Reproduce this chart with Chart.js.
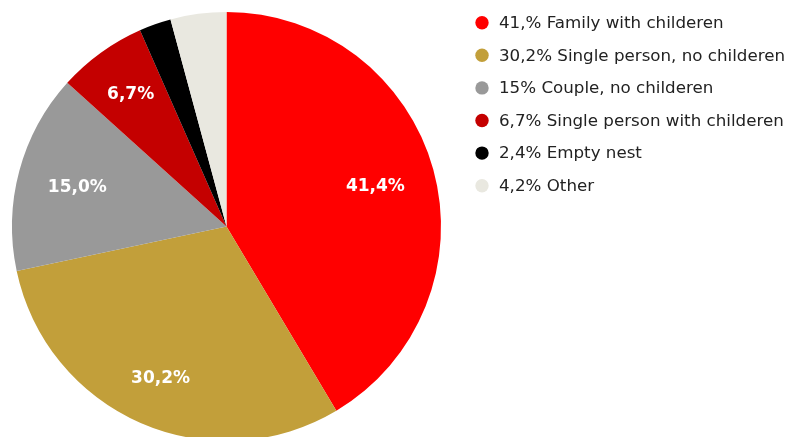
<!DOCTYPE html>
<html>
<head>
<meta charset="utf-8">
<script src="https://cdn.jsdelivr.net/npm/chart.js@4"></script>
<style>
  html, body { margin: 0; padding: 0; background: #fff; overflow: hidden; }
  #wrap { width: 786px; height: 437px; overflow: hidden; }
</style>
</head>
<body>
<div id="wrap"><canvas id="pie" width="786" height="447"></canvas></div>
<script>
//categories and values
const categories = ["Family with childeren", "Single person, no childeren", "Couple, no childeren", "Single person with childeren", "Empty nest", "Other"];
const values = [41.4, 30.2, 15.0, 6.7, 2.4, 4.2];
//legend text as written in the picture
const legendLabels = ["41,% Family with childeren", "30,2% Single person, no childeren", "15% Couple, no childeren", "6,7% Single person with childeren", "2,4% Empty nest", "4,2% Other"];
//which slices get a value label
const showLabel = [true, true, true, true, false, false];
const sliceColors = ["#FF0000", "#C29F3A", "#999999", "#C40000", "#000000", "#E9E8E0"];

//draws the percent text inside slices, outer edge of the text box kept at a fixed radius
const sliceLabels = {
  id: "sliceLabels",
  afterDatasetsDraw(chart) {
    const ctx = chart.ctx;
    const meta = chart.getDatasetMeta(0);
    ctx.save();
    ctx.fillStyle = "#ffffff";
    ctx.font = "bold 17px 'DejaVu Sans', Verdana, sans-serif";
    ctx.textAlign = "center";
    ctx.textBaseline = "middle";
    meta.data.forEach((arc, i) => {
      if (!showLabel[i]) return;
      const mid = (arc.startAngle + arc.endAngle) / 2;
      const txt = values[i].toFixed(1).replace(".", ",") + "%";
      const hw = ctx.measureText(txt).width / 2;
      const hh = 10;
      const c = Math.cos(mid), s = Math.sin(mid);
      const r = arc.outerRadius * 0.865 - (hw * Math.abs(c) + hh * Math.abs(s));
      ctx.fillText(txt, arc.x + c * r, arc.y + s * r + 1);
    });
    ctx.restore();
  }
};

//legend on the right side, drawn on the canvas
const sideLegend = {
  id: "sideLegend",
  afterDraw(chart) {
    const ctx = chart.ctx;
    ctx.save();
    ctx.font = "16.7px 'DejaVu Sans', Verdana, sans-serif";
    ctx.textBaseline = "middle";
    ctx.textAlign = "left";
    legendLabels.forEach((txt, i) => {
      const y = 22.7 + i * 32.6;
      ctx.fillStyle = sliceColors[i];
      ctx.beginPath();
      ctx.arc(482, y, 6.7, 0, Math.PI * 2);
      ctx.fill();
      ctx.fillStyle = "#222222";
      ctx.fillText(txt, 499, y + 1);
    });
    ctx.restore();
  }
};

let myChart = new Chart(document.getElementById("pie"), {
  type: "pie",
  plugins: [sliceLabels, sideLegend],
  data: {
    labels: categories,
    datasets: [{
      data: values,
      backgroundColor: sliceColors,
      borderWidth: 0
    }]
  },
  options: {
    responsive: false,
    animation: false,
    layout: { padding: { left: 12, top: 12, right: 345, bottom: 6 } },
    plugins: {
      legend: { display: false },
      tooltip: { enabled: false }
    }
  }
});
</script>
</body>
</html>
